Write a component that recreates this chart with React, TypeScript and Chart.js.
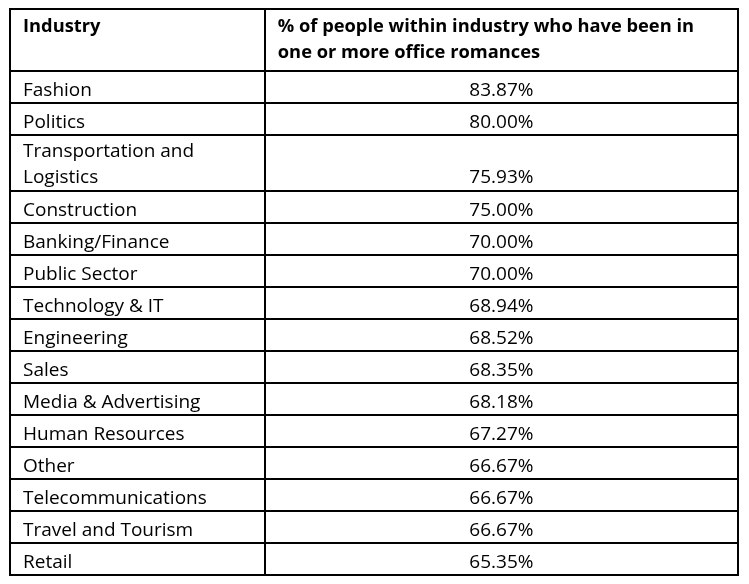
import React, { useEffect, useRef } from "react";
import { Chart, registerables } from "chart.js";

Chart.register(...registerables);

// ---- data ----
const headerLabels = [
  "Industry",
  "% of people within industry who have been in\none or more office romances",
];
const industries = [
  "Fashion",
  "Politics",
  "Transportation and\nLogistics",
  "Construction",
  "Banking/Finance",
  "Public Sector",
  "Technology & IT",
  "Engineering",
  "Sales",
  "Media & Advertising",
  "Human Resources",
  "Other",
  "Telecommunications",
  "Travel and Tourism",
  "Retail",
];
const percentages = [
  83.87, 80.0, 75.93, 75.0, 70.0, 70.0, 68.94, 68.52, 68.35, 68.18, 67.27,
  66.67, 66.67, 66.67, 65.35,
];

// ---- layout (styles / sizes) ----
const FONT_FAMILY = "'Open Sans', sans-serif";
const FONT_SIZE = 19;
const HEADER_FONT_SIZE = 18.3;
const HEADER_H = 62;
const SINGLE_H = 32;
const DOUBLE_H = 56;
const LINE_GAP = 26;
const COL_SPLIT = 0.35; // fraction of table width for first column
const INSET = 13;

function rowHeight(lines: number) {
  return lines > 1 ? DOUBLE_H : SINGLE_H;
}

export default function App() {
  const ref = useRef<HTMLCanvasElement | null>(null);

  useEffect(() => {
    if (!ref.current) return;

    const rowLines = industries.map((s) => s.split("\n").length);
    const bounds: number[] = [0, HEADER_H];
    rowLines.forEach((n) => bounds.push(bounds[bounds.length - 1] + rowHeight(n)));
    const total = bounds[bounds.length - 1];

    const tablePlugin = {
      id: "tablePlugin",
      afterDraw(chart: any) {
        const ctx = chart.ctx as CanvasRenderingContext2D;
        const xs = chart.scales.x;
        const ys = chart.scales.y;
        const x0 = xs.getPixelForValue(0);
        const x1 = xs.getPixelForValue(1);
        const xm = xs.getPixelForValue(COL_SPLIT);
        const colCenter = xs.getPixelForValue((COL_SPLIT + 1) / 2);
        const yTop = ys.getPixelForValue(0);
        const yBot = ys.getPixelForValue(total);

        ctx.save();
        ctx.strokeStyle = "#000";
        ctx.lineWidth = 2;
        ctx.beginPath();
        bounds.forEach((b) => {
          const y = Math.round(ys.getPixelForValue(b));
          ctx.moveTo(x0 - 1, y);
          ctx.lineTo(x1 + 1, y);
        });
        [x0, xm, x1].forEach((x) => {
          const xx = Math.round(x);
          ctx.moveTo(xx, yTop);
          ctx.lineTo(xx, yBot);
        });
        ctx.stroke();

        ctx.fillStyle = "#000";
        ctx.textBaseline = "alphabetic";

        // header
        ctx.font = `bold ${HEADER_FONT_SIZE}px ${FONT_FAMILY}`;
        ctx.textAlign = "left";
        headerLabels.forEach((label, ci) => {
          const lx = (ci === 0 ? x0 : xm) + INSET;
          label.split("\n").forEach((line, li) => {
            ctx.fillText(line, lx, yTop + 22 + li * LINE_GAP + 1);
          });
        });

        // rows
        ctx.font = `${FONT_SIZE}px ${FONT_FAMILY}`;
        industries.forEach((name, i) => {
          const top = ys.getPixelForValue(bounds[i + 1]);
          const lines = name.split("\n");
          const base = lines.length > 1 ? top + 22 : top + 24.5;
          ctx.textAlign = "left";
          lines.forEach((line, li) => {
            ctx.fillText(line, x0 + INSET, base + li * LINE_GAP);
          });
          ctx.textAlign = "center";
          ctx.fillText(
            percentages[i].toFixed(2) + "%",
            colCenter,
            base + (lines.length - 1) * LINE_GAP
          );
        });
        ctx.restore();
      },
    };

    const chart = new Chart(ref.current, {
      type: "scatter",
      data: {
        datasets: [
          {
            data: percentages.map((v, i) => ({ x: (COL_SPLIT + 1) / 2, y: bounds[i + 1] + 1 })),
            pointRadius: 0,
          },
        ],
      },
      options: {
        responsive: false,
        animation: false,
        events: [],
        layout: { padding: { left: 10, top: 9, right: 11, bottom: 9 } },
        plugins: { legend: { display: false }, tooltip: { enabled: false } },
        scales: {
          x: { type: "linear", min: 0, max: 1, display: false },
          y: { type: "linear", min: 0, max: total, reverse: true, display: false },
        },
      },
      plugins: [tablePlugin],
    });
    return () => chart.destroy();
  }, []);

  return (
    <div style={{ position: "fixed", left: 0, top: 0, width: 749, height: 584, background: "#fff" }}>
      <canvas ref={ref} width={749} height={584} style={{ width: 749, height: 584, display: "block" }} />
    </div>
  );
}
